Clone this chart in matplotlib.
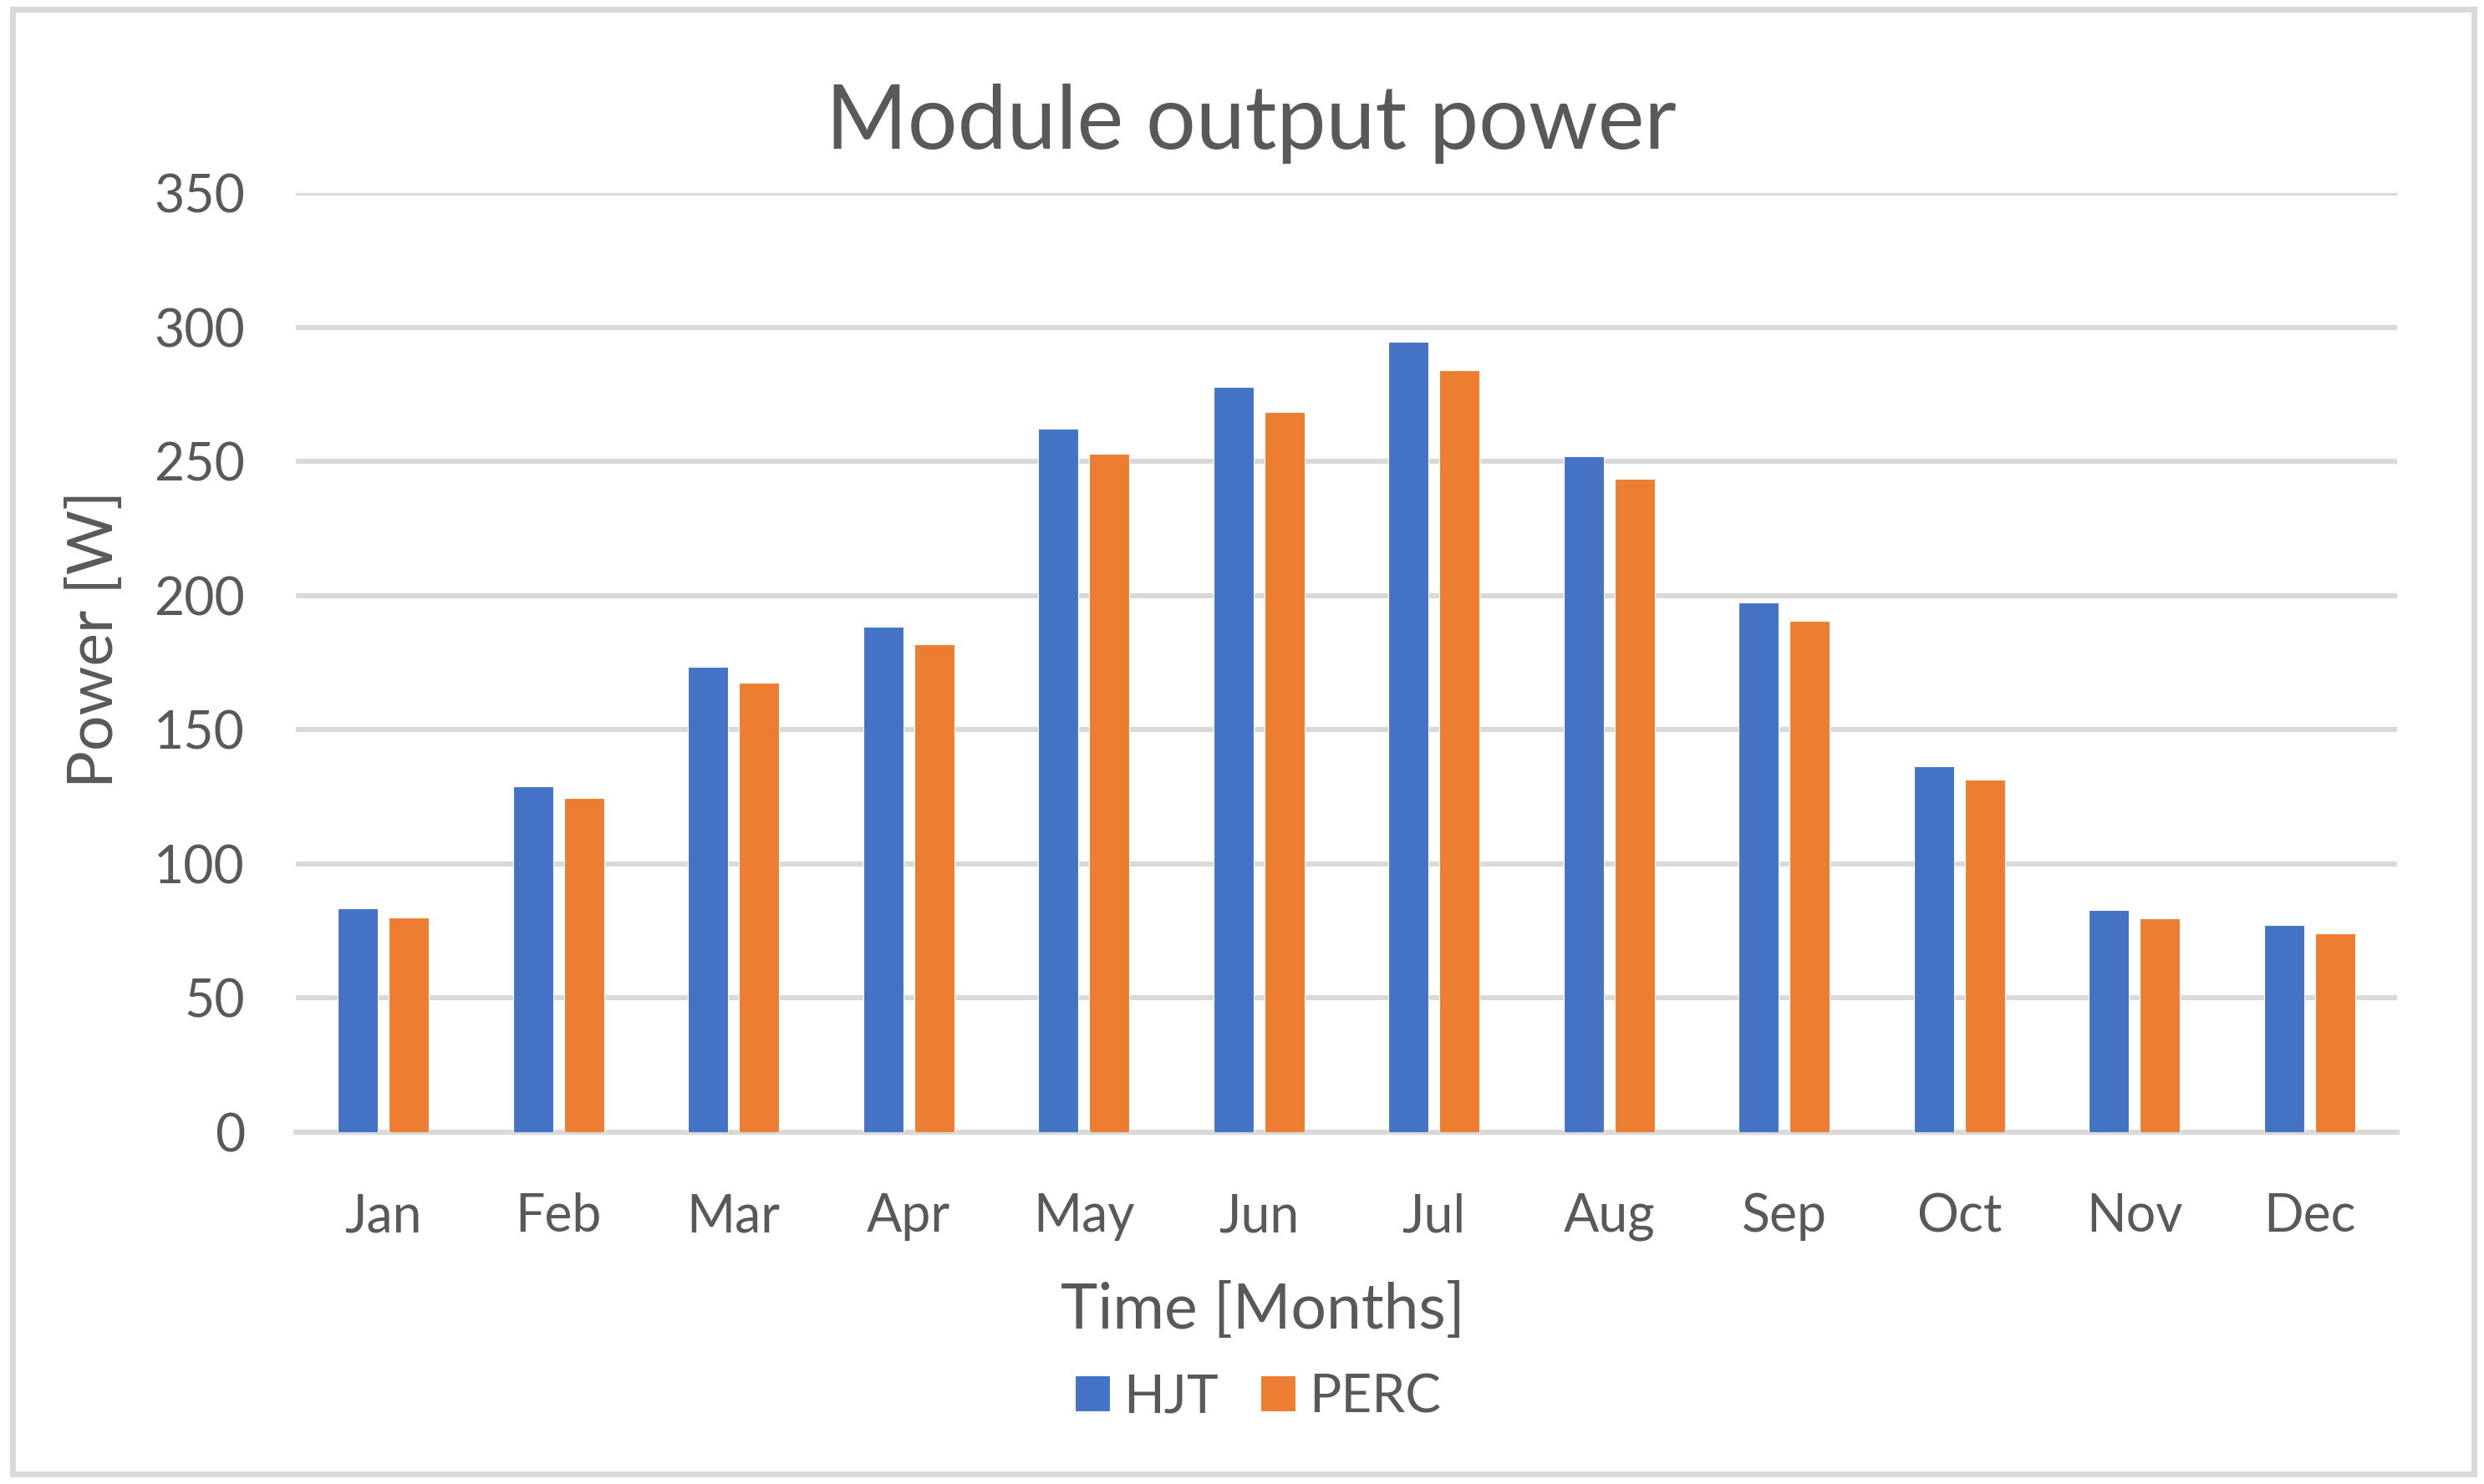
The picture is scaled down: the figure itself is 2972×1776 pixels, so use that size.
import matplotlib
matplotlib.use("Agg")
import matplotlib.pyplot as plt
import numpy as np
from matplotlib.patches import Rectangle

months = ["Jan", "Feb", "Mar", "Apr", "May", "Jun", "Jul", "Aug", "Sep", "Oct", "Nov", "Dec"]
hjt = [83.3, 129.0, 173.4, 188.3, 262.1, 277.8, 294.6, 252.0, 197.4, 136.5, 82.7, 77.2]
perc = [80.0, 124.6, 167.5, 181.7, 252.8, 268.3, 284.1, 243.5, 190.5, 131.5, 79.8, 74.2]
yticks = [0, 50, 100, 150, 200, 250, 300, 350]

plt.rcParams['font.family'] = ['Lato', 'DejaVu Sans']
TXT = '#595959'
GRID = '#D9D9D9'

W, H = 2972, 1776
dpi = 200
fig = plt.figure(figsize=(W / dpi, H / dpi), dpi=dpi)
fig.patch.set_facecolor('white')

# outer border
fig.patches.append(Rectangle((15 / W, 12 / H), (2960 - 15) / W, (1765 - 12) / H,
                             transform=fig.transFigure, fill=False,
                             edgecolor=GRID, linewidth=2.5))

left, right = 354 / W, 2868 / W
bottom, top = 1 - 1355 / H, 1 - 231 / H
ax = fig.add_axes([left, bottom, right - left, top - bottom])

x = np.arange(len(months))
bw = 0.228
off = 0.145
ax.bar(x - off, hjt, bw, color='#4472C4', edgecolor='white', linewidth=0.4, label='HJT', zorder=3)
ax.bar(x + off, perc, bw, color='#ED7D31', edgecolor='white', linewidth=0.4, label='PERC', zorder=3)

ax.set_xlim(-0.5, len(months) - 0.5)
ax.set_ylim(0, 350)
ax.set_yticks(yticks)
ax.set_xticks(x)
ax.set_xticklabels(months)
ax.yaxis.grid(True, color=GRID, linewidth=2.2, zorder=0)
ax.set_axisbelow(True)
for s in ['top', 'right', 'left']:
    ax.spines[s].set_visible(False)
ax.spines['bottom'].set_color(GRID)
ax.spines['bottom'].set_linewidth(2.2)
ax.tick_params(axis='both', length=0, labelsize=22.5, colors=TXT)
ax.tick_params(axis='x', pad=26)
ax.tick_params(axis='y', pad=22)

ax.set_ylabel('Power [W]', fontsize=27, color=TXT)
ax.yaxis.set_label_coords(-0.0955, 0.525)
ax.set_xlabel('Time [Months]', fontsize=27, color=TXT)
ax.xaxis.set_label_coords(0.46, -0.19)
ax.xaxis.label.set_va('center')
ax.yaxis.label.set_va('center')

fig.text(1497 / W, 1 - 148 / H, 'Module output power', fontsize=38, color=TXT,
         ha='center', va='center')

leg = fig.legend(loc='center', bbox_to_anchor=(1505 / W, 1 - 1672 / H), ncol=2,
                 frameon=False, fontsize=23, handlelength=0.65, handleheight=0.65,
                 handletextpad=0.25, columnspacing=0.8)
for t in leg.get_texts():
    t.set_color(TXT)

fig.savefig('out.png', dpi=dpi, facecolor='white')
